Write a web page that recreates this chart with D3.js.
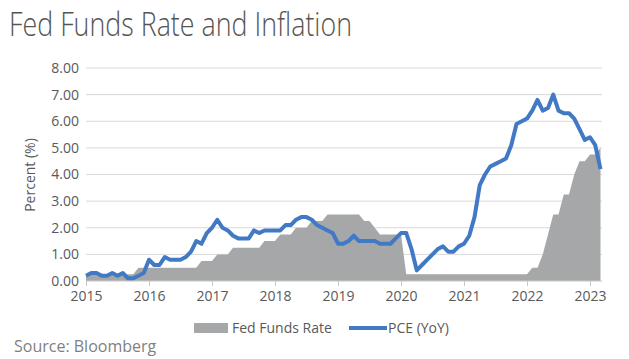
<!DOCTYPE html>
<html><head><meta charset="utf-8">
<script src="https://cdn.jsdelivr.net/npm/d3@7"></script>
<style>body{margin:0;background:#fff}svg{display:block}</style>
</head><body><svg id="c" width="629" height="359"></svg>
<script>
const yearLabels = ["2015","2016","2017","2018","2019","2020","2021","2022","2023"];
const yTicks = [0,1,2,3,4,5,6,7,8];
// monthly values, Jan 2015 .. Mar 2023
const fedFunds = [
 0.25,0.25,0.25,0.25,0.25,0.25,0.25,0.25,0.25,0.25,0.5,0.5,
 0.5,0.5,0.5,0.5,0.5,0.5,0.5,0.5,0.5,0.5,0.75,0.75,
 0.75,1,1,1,1.25,1.25,1.25,1.25,1.25,1.25,1.5,1.5,
 1.5,1.75,1.75,1.75,2,2,2,2.25,2.25,2.25,2.5,2.5,
 2.5,2.5,2.5,2.5,2.5,2.25,2.25,2,1.75,1.75,1.75,1.75,
 1.75,0.25,0.25,0.25,0.25,0.25,0.25,0.25,0.25,0.25,0.25,0.25,
 0.25,0.25,0.25,0.25,0.25,0.25,0.25,0.25,0.25,0.25,0.25,0.25,
 0.25,0.5,0.5,1,1.75,2.5,2.5,3.25,3.25,4,4.5,4.5,
 4.75,4.75,5
];
const pce = [
 0.2,0.3,0.3,0.2,0.2,0.3,0.2,0.3,0.1,0.1,0.2,0.3,
 0.8,0.6,0.6,0.9,0.8,0.8,0.8,0.9,1.1,1.5,1.4,1.8,
 2.0,2.3,2.0,1.9,1.7,1.6,1.6,1.6,1.9,1.8,1.9,1.9,
 1.9,1.9,2.1,2.1,2.3,2.4,2.4,2.3,2.1,2.0,1.9,1.8,
 1.4,1.4,1.5,1.7,1.5,1.5,1.5,1.5,1.4,1.4,1.4,1.6,
 1.8,1.8,1.2,0.4,0.6,0.8,1.0,1.2,1.3,1.1,1.1,1.3,
 1.4,1.7,2.4,3.6,4.0,4.3,4.4,4.5,4.6,5.1,5.9,6.0,
 6.1,6.4,6.8,6.4,6.5,7.0,6.4,6.3,6.3,6.1,5.7,5.3,
 5.4,5.1,4.2
];
const seriesNames = ["Fed Funds Rate","PCE (YoY)"];

const svg = d3.select("#c");
const fontMain = "'Open Sans','Noto Sans','DejaVu Sans',sans-serif";
const x = d3.scaleLinear().domain([0, 96]).range([86, 590]);
const y = d3.scaleLinear().domain([0, 8]).range([281, 68]);

// gridlines
svg.append("g").selectAll("line").data(yTicks.filter(d=>d>0)).join("line")
  .attr("x1", x(0)).attr("x2", 602).attr("y1", d=>y(d)).attr("y2", d=>y(d))
  .attr("stroke", "#d9d9d9").attr("stroke-width", 1);

// area
const area = d3.area().x((d,i)=>x(i)).y0(y(0)).y1(d=>y(d));
svg.append("path").datum(fedFunds).attr("d", area).attr("fill", "#a6a7a8");

// x axis line + ticks
svg.append("line").attr("x1", x(0)).attr("x2", 602).attr("y1", y(0)).attr("y2", y(0))
  .attr("stroke", "#c8c8c8").attr("stroke-width", 1);
const xAxis = d3.axisBottom(x).tickValues(yearLabels.map((d,i)=>i*12))
  .tickFormat((d,i)=>yearLabels[i]).tickSize(5).tickPadding(5);
const gx = svg.append("g").attr("transform", `translate(0,${y(0)})`).call(xAxis);
gx.select(".domain").remove();
gx.selectAll(".tick line").attr("stroke", "#c8c8c8");
gx.selectAll("text").attr("fill", "#595959").style("font-family", fontMain).style("font-size", "14px");

// y axis labels
const yAxis = d3.axisLeft(y).tickValues(yTicks).tickFormat(d3.format(".2f")).tickSize(0).tickPadding(7);
const gy = svg.append("g").attr("transform", `translate(${x(0)},0)`).call(yAxis);
gy.select(".domain").remove();
gy.selectAll("text").attr("fill", "#595959").style("font-family", fontMain).style("font-size", "14px");

// PCE line
const line = d3.line().x((d,i)=>x(i)).y(d=>y(d));
svg.append("path").datum(pce).attr("d", line).attr("fill", "none")
  .attr("stroke", "#4279c5").attr("stroke-width", 4).attr("stroke-linejoin", "round");

// y title
svg.append("text").attr("transform", "translate(35,175) rotate(-90)")
  .attr("text-anchor", "middle").attr("fill", "#595959")
  .style("font-family", fontMain).style("font-size", "14px").text("Percent (%)");

// title
svg.append("text").attr("x", 9).attr("y", 36).attr("fill", "#555550")
  .attr("textLength", 343).attr("lengthAdjust", "spacingAndGlyphs")
  .style("font-family", fontMain).style("font-weight", 300).style("font-size", "33px")
  .text("Fed Funds Rate and Inflation");

// legend
svg.append("rect").attr("x", 194).attr("y", 323).attr("width", 34).attr("height", 10).attr("fill", "#a6a7a8");
svg.append("text").attr("x", 232).attr("y", 333).attr("fill", "#595959")
  .style("font-family", fontMain).style("font-size", "14px").text(seriesNames[0]);
svg.append("line").attr("x1", 349).attr("x2", 387).attr("y1", 328).attr("y2", 328)
  .attr("stroke", "#4279c5").attr("stroke-width", 4);
svg.append("text").attr("x", 388).attr("y", 333).attr("fill", "#595959")
  .style("font-family", fontMain).style("font-size", "14px").text(seriesNames[1]);

// source
svg.append("text").attr("x", 14).attr("y", 352).attr("fill", "#7f7f7f")
  .style("font-family", fontMain).style("font-size", "16px").text("Source: Bloomberg");
</script></body></html>
